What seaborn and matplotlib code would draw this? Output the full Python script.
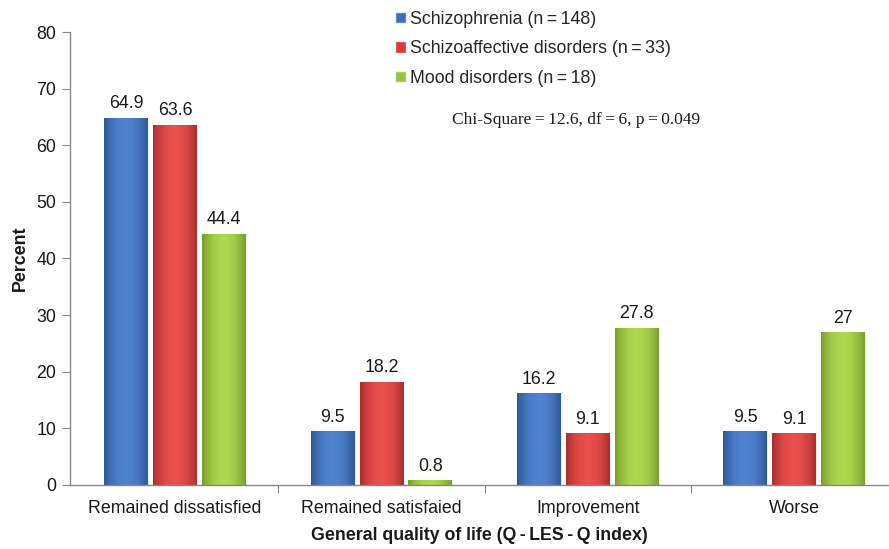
import numpy as np
import pandas as pd
import matplotlib
matplotlib.use("Agg")
import matplotlib.pyplot as plt
import matplotlib.colors as mcolors
from matplotlib.patches import Patch
import seaborn as sns

# Quality-of-life outcome categories and percentages per diagnosis group
categories = ["Remained dissatisfied", "Remained satisfaied", "Improvement", "Worse"]
groups = ["Schizophrenia (n\u2009=\u2009148)",
          "Schizoaffective disorders (n\u2009=\u200933)",
          "Mood disorders (n\u2009=\u200918)"]
schizophrenia = [64.9, 9.5, 16.2, 9.5]
schizoaffective = [63.6, 18.2, 9.1, 9.1]
mood = [44.4, 0.8, 27.8, 27]
colors = ["#3B6EBA", "#D43B39", "#98C43B"]
yticks = [0, 10, 20, 30, 40, 50, 60, 70, 80]
stats_note = "Chi-Square\u2009=\u200912.6, df\u2009=\u20096, p\u2009=\u20090.049"

series = [schizophrenia, schizoaffective, mood]
df = pd.DataFrame({
    "category": np.repeat([categories], 3, axis=0).ravel(),
    "group": np.repeat(groups, len(categories)),
    "value": np.concatenate(series),
})

sns.set_theme(style="white")
plt.rcParams["font.family"] = ["Liberation Sans", "DejaVu Sans"]
FS = 12.8
TXT = "#1a1a1a"

fig = plt.figure(figsize=(8.89, 5.49), dpi=100)
ax = fig.add_axes([0.0787, 0.1166, 0.9213, 0.8251])

sns.barplot(data=df, x="category", y="value", hue="group", order=categories,
            hue_order=groups, palette=colors, width=0.71, gap=0.1,
            edgecolor="#eeeeee", linewidth=0.8, legend=False, ax=ax, zorder=2)

# Shade each bar with a horizontal highlight so it looks rounded
grad = np.linspace(-1, 1, 64)
shade = 1 - grad ** 2
for container, col in zip(ax.containers, colors):
    base = np.array(mcolors.to_rgb(col))
    light = np.clip(base + 0.08, 0, 1)
    dark = base * 0.80
    img = (dark + (light - dark) * shade[:, None])[None, :, :]
    for bar in container:
        x0, y0 = bar.get_x(), bar.get_y()
        w, h = bar.get_width(), bar.get_height()
        im = ax.imshow(img, extent=[x0, x0 + w, y0, y0 + h], aspect="auto",
                       zorder=2.1, interpolation="bicubic")
        im.set_clip_path(bar)
    labels = [f"{v:g}" for v in container.datavalues]
    ax.bar_label(container, labels=labels, padding=4, fontsize=FS,
                 color=TXT, zorder=3)

ax.set_xlim(-0.51, 3.46)
ax.set_ylim(0, 80)
ax.set_yticks(yticks)
ax.set_yticklabels([str(t) for t in yticks], fontsize=FS, color=TXT)
ax.set_xticks(range(len(categories)))
ax.set_xticklabels(categories, fontsize=FS, color=TXT)
ax.set_xticks([0.5, 1.5, 2.5], minor=True)
ax.tick_params(axis="x", which="major", length=0, pad=11)
ax.tick_params(axis="x", which="minor", length=6, width=0.8, color="#888888",
               direction="out", bottom=True)
ax.tick_params(axis="y", which="major", length=6, width=0.8, color="#888888",
               direction="out", left=True, pad=4)

for side in ["top", "right"]:
    ax.spines[side].set_visible(False)
for side in ["left", "bottom"]:
    ax.spines[side].set_color("#888888")
    ax.spines[side].set_linewidth(1.0)

ax.set_xlabel("General quality of life (Q\u2009-\u2009LES\u2009-\u2009Q index)",
              fontsize=FS, fontweight="bold", color=TXT, labelpad=7)
ax.set_ylabel("Percent", fontsize=FS, fontweight="bold", color=TXT,
              labelpad=5)

handles = [Patch(facecolor=c, edgecolor="#eeeeee") for c in colors]
fig.legend(handles, groups, loc="upper left", bbox_to_anchor=(0.426, 1.01),
           frameon=False, fontsize=FS, handlelength=0.65, handleheight=0.6,
           handletextpad=0.2, labelspacing=0.72)

fig.text(0.508, 0.782, stats_note, fontsize=12.5,
         family=["Liberation Serif", "DejaVu Serif"], color=TXT,
         va="center", ha="left")

fig.savefig("out.png", dpi=100)
